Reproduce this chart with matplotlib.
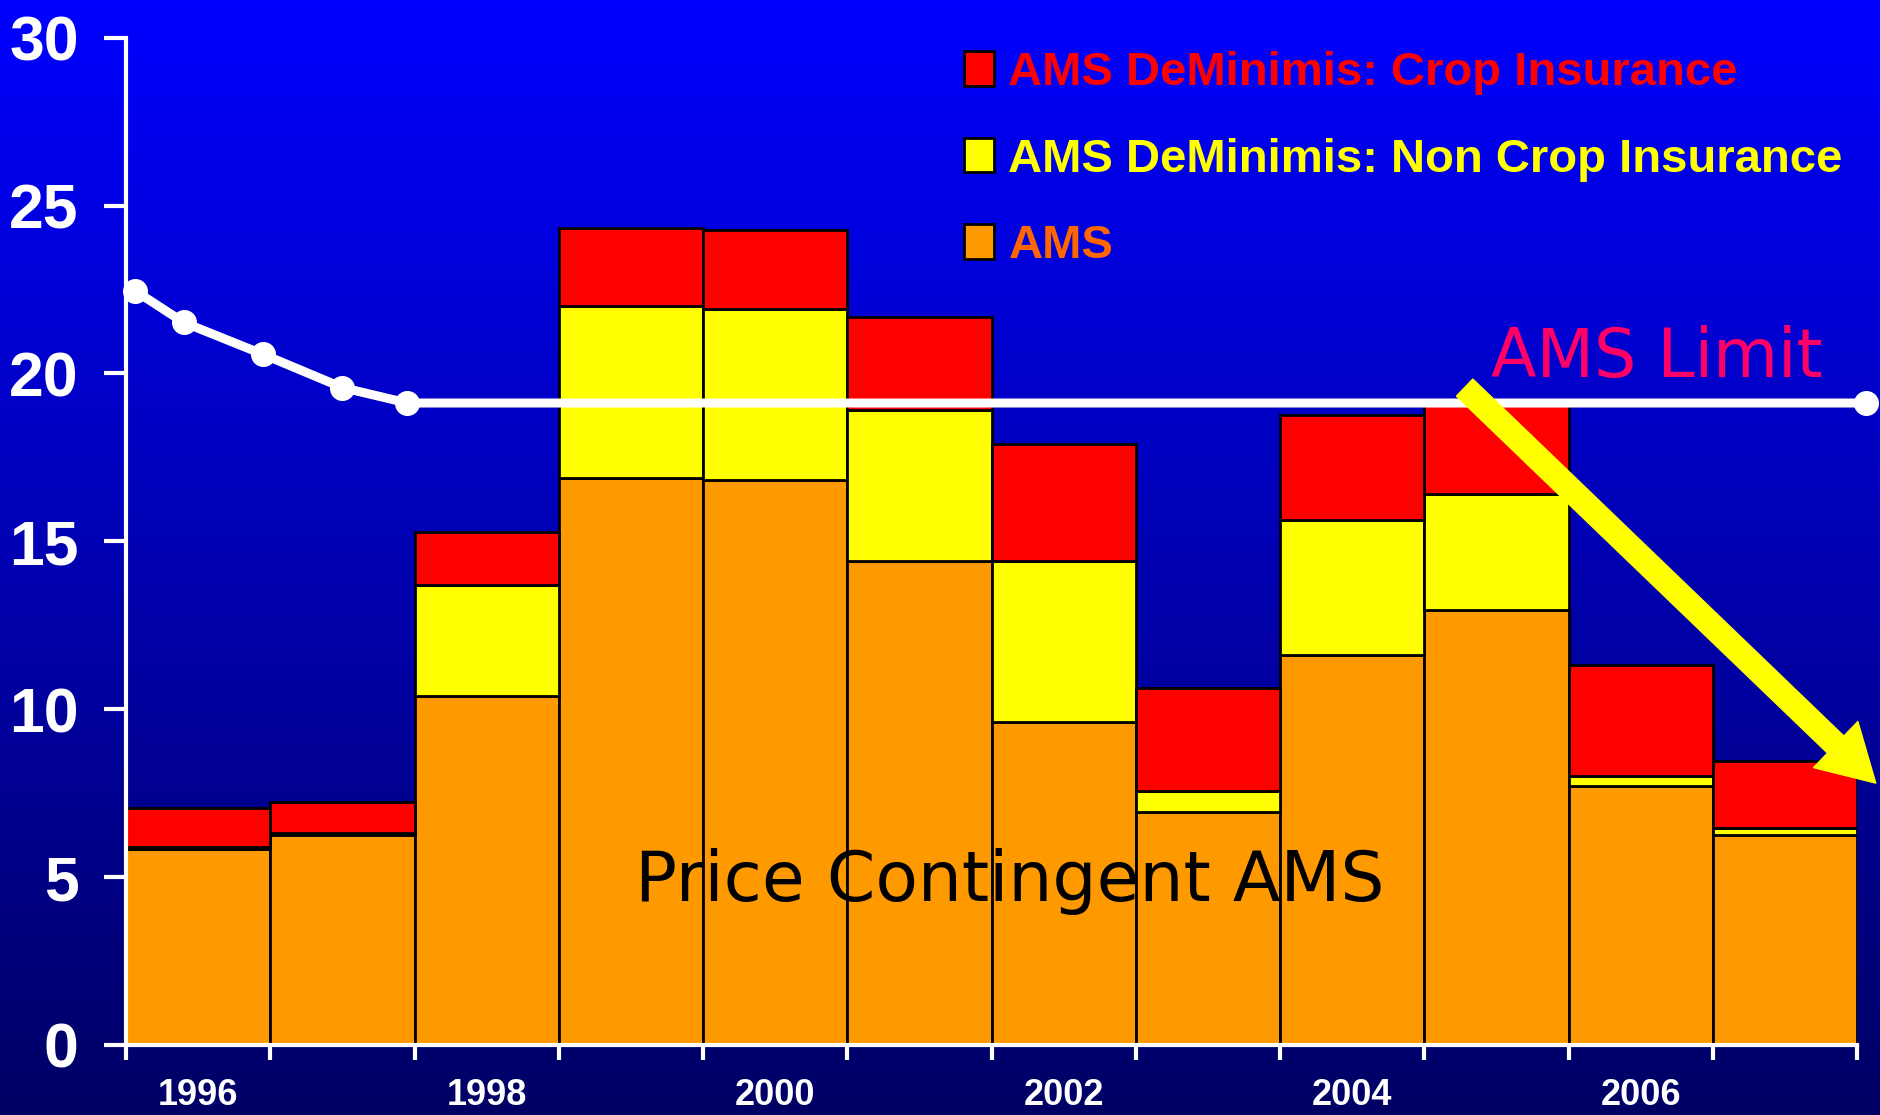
import numpy as np
import matplotlib
matplotlib.use("Agg")
import matplotlib.pyplot as plt

# data (billion $)
years = [1996, 1997, 1998, 1999, 2000, 2001, 2002, 2003, 2004, 2005, 2006, 2007]
label_years = [1996, 1998, 2000, 2002, 2004, 2006]
ams = [5.85, 6.25, 10.4, 16.9, 16.83, 14.42, 9.62, 6.94, 11.63, 12.97, 7.70, 6.24]
deminimis_non_crop = [0.04, 0.06, 3.3, 5.1, 5.1, 4.49, 4.8, 0.62, 4.01, 3.45, 0.32, 0.23]
deminimis_crop = [1.18, 0.93, 1.59, 2.33, 2.33, 2.76, 3.48, 3.06, 3.13, 2.73, 3.31, 1.99]

# AMS limit line (x in year units, bars centred on the year)
limit_x = [1995.56, 1995.9, 1996.45, 1997.0, 1997.45, 2007.56]
limit_y = [22.47, 21.52, 20.57, 19.58, 19.12, 19.12]

legend_labels = ["AMS DeMinimis: Crop Insurance",
                 "AMS DeMinimis: Non Crop Insurance",
                 "AMS"]

sans = ["Liberation Sans", "DejaVu Sans"]

fig = plt.figure(figsize=(18.81, 11.15), dpi=100)

# blue gradient background
bg = fig.add_axes([0, 0, 1, 1], zorder=-10)
shade = np.linspace(255, 100, 256) / 255.0
grad = np.zeros((256, 1, 3))
grad[:, 0, 2] = shade
bg.imshow(grad, aspect="auto", extent=[0, 1, 0, 1])
bg.axis("off")

ax = fig.add_axes([126 / 1881, 1 - 1045 / 1115, (1857 - 126) / 1881, (1045 - 37.7) / 1115])
ax.set_facecolor("none")

ams = np.array(ams)
non_crop = np.array(deminimis_non_crop)
crop = np.array(deminimis_crop)

b_ams = ax.bar(years, ams, width=1.0, color="#FF9900", edgecolor="black", linewidth=2, zorder=2)
b_yel = ax.bar(years, non_crop, bottom=ams, width=1.0, color="#FFFF00", edgecolor="black",
               linewidth=2, zorder=2)
b_red = ax.bar(years, crop, bottom=ams + non_crop, width=1.0, color="#FF0000", edgecolor="black",
               linewidth=2, zorder=2)

# AMS limit
ax.plot(limit_x, limit_y, color="white", lw=6.5, marker="o", ms=17, zorder=4, clip_on=False)
ax.text(2004.96, 19.88, "AMS Limit", color="#FF0066", fontsize=48, family="DejaVu Sans",
        ha="left", va="baseline", zorder=5)

ax.text(1999.03, 4.3, "Price Contingent AMS", color="black", fontsize=50, family="DejaVu Sans",
        ha="left", va="baseline", zorder=5)

# downward arrow
ax.annotate("", xy=(2007.63, 7.8), xytext=(2004.78, 19.58),
            arrowprops=dict(arrowstyle="simple,head_width=4.6,head_length=4,tail_width=1.7",
                            mutation_scale=10, color="#FFFF00", shrinkA=0, shrinkB=0),
            zorder=6, annotation_clip=False)

ax.set_xlim(1995.5, 2007.5)
ax.set_ylim(0, 30)

for s in ["top", "right"]:
    ax.spines[s].set_visible(False)
for s in ["left", "bottom"]:
    ax.spines[s].set_color("white")
    ax.spines[s].set_linewidth(3)
    ax.spines[s].set_zorder(5)

ax.set_yticks(np.arange(0, 31, 5))
ax.tick_params(axis="y", colors="white", length=16, width=3, pad=18)
for t in ax.get_yticklabels():
    t.set_fontsize(45)
    t.set_fontweight("bold")
    t.set_family(sans)

ax.set_xticks(np.arange(1995.5, 2008, 1.0))
ax.set_xticklabels([])
ax.tick_params(axis="x", which="major", colors="white", length=11, width=3)
ax.set_xticks(label_years, minor=True)
ax.set_xticklabels([str(y) for y in label_years], minor=True)
ax.tick_params(axis="x", which="minor", length=0, pad=24, colors="white")
for t in ax.get_xticklabels(minor=True):
    t.set_fontsize(26)
    t.set_fontweight("bold")
    t.set_family(sans)

leg = ax.legend(handles=[b_red, b_yel, b_ams], labels=legend_labels,
                loc="upper left", bbox_to_anchor=(964 / 1881, 1 - 51 / 1115),
                bbox_transform=fig.transFigure, frameon=False,
                prop=dict(family=sans, weight="bold", size=34),
                labelcolor=["#FF0000", "#FFFF00", "#FF6600"],
                handlelength=0.64, handleheight=0.75, handletextpad=0.3,
                labelspacing=0.9, borderpad=0, borderaxespad=0)
leg.set_zorder(7)

fig.savefig("out.png", dpi=100)
